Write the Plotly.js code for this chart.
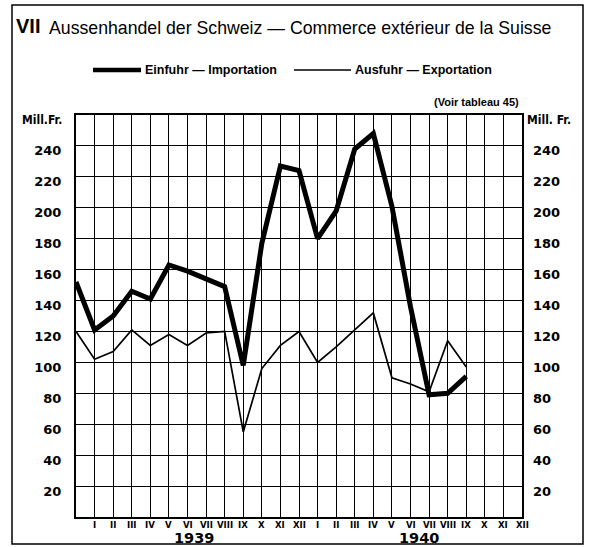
<!DOCTYPE html>
<html>
<head>
<meta charset="utf-8">
<script src="https://cdn.plot.ly/plotly-3.0.1.min.js"></script>
<style>html,body{margin:0;padding:0;background:#fff;}#chart{width:591px;height:547px;}</style>
</head>
<body>
<div id="chart"></div>
<script>
// ---- data (monthly, starting December 1938) ----
const periods = ['XII 1938','I 1939','II 1939','III 1939','IV 1939','V 1939','VI 1939','VII 1939','VIII 1939','IX 1939','X 1939','XI 1939','XII 1939',
                 'I 1940','II 1940','III 1940','IV 1940','V 1940','VI 1940','VII 1940','VIII 1940','IX 1940'];
const importValues = [152,121,130,146,141,163,159,154,149,98,177,227,224,180,198,238,248,201,136,79,80,91];
const exportValues = [120,102,107,121,111,118,111,119,120,55,96,111,120,100,110,121,132,90,86,81,114,97];
const monthTickText = ['I','II','III','IV','V','VI','VII','VIII','IX','X','XI','XII',
                       'I','II','III','IV','V','VI','VII','VIII','IX','X','XI','XII'];
const yearLabels = ['1939','1940'];
const yTickValues = [20,40,60,80,100,120,140,160,180,200,220,240];
const seriesNames = ['Einfuhr — Importation','Ausfuhr — Exportation'];

// ---- geometry helpers ----
const W = 591, H = 547;
const L = 76, R = 522, T = 115, B = 517;
const px = x => (x - L) / (R - L);
const py = y => (B - y) / (B - T);

const xIdx = periods.map((_, i) => i);
const monthTickVals = monthTickText.map((_, i) => i + 1);

const narrow = "'Liberation Sans Narrow','DejaVu Sans Condensed',sans-serif";
const numFont = {family: "'DejaVu Sans',sans-serif", size: 13, color: '#000', weight: 'bold'};

const traces = [
  {x: xIdx, y: importValues, type: 'scatter', mode: 'lines', name: seriesNames[0],
   line: {color: '#000', width: 5, shape: 'linear'}, hoverinfo: 'skip'},
  {x: xIdx, y: exportValues, type: 'scatter', mode: 'lines', name: seriesNames[1],
   line: {color: '#000', width: 1.7}, hoverinfo: 'skip'},
  {x: xIdx, y: exportValues, type: 'scatter', mode: 'lines', yaxis: 'y2', showlegend: false,
   line: {color: 'rgba(0,0,0,0)', width: 0}, hoverinfo: 'skip'}
];

const annotations = [
  {text: 'VII', xref: 'paper', yref: 'paper', x: px(14), y: py(26), xanchor: 'left', yanchor: 'middle',
   showarrow: false, font: {family: "'Liberation Sans',sans-serif", size: 20, weight: 'bold', color: '#000'}},
  {text: 'Aussenhandel der Schweiz — Commerce extérieur de la Suisse', xref: 'paper', yref: 'paper',
   x: px(47), y: py(28), xanchor: 'left', yanchor: 'middle', showarrow: false,
   font: {family: "'Liberation Sans',sans-serif", size: 17.7, color: '#000'}},
  {text: seriesNames[0], xref: 'paper', yref: 'paper', x: px(143), y: py(70), xanchor: 'left', yanchor: 'middle',
   showarrow: false, font: {family: "'Liberation Sans',sans-serif", size: 12.5, weight: 'bold', color: '#000'}},
  {text: seriesNames[1], xref: 'paper', yref: 'paper', x: px(353), y: py(70), xanchor: 'left', yanchor: 'middle',
   showarrow: false, font: {family: "'Liberation Sans',sans-serif", size: 12.5, weight: 'bold', color: '#000'}},
  {text: '(Voir tableau 45)', xref: 'paper', yref: 'paper', x: px(521), y: py(102), xanchor: 'right', yanchor: 'middle',
   showarrow: false, font: {family: "'Liberation Sans',sans-serif", size: 11, weight: 'bold', color: '#000'}},
  {text: 'Mill.Fr.', xref: 'paper', yref: 'paper', x: px(64), y: py(120), xanchor: 'right', yanchor: 'middle',
   showarrow: false, font: {family: narrow, size: 12, weight: 'bold', color: '#000'}},
  {text: 'Mill. Fr.', xref: 'paper', yref: 'paper', x: px(525), y: py(120), xanchor: 'left', yanchor: 'middle',
   showarrow: false, font: {family: narrow, size: 12, weight: 'bold', color: '#000'}},
  {text: yearLabels[0], xref: 'paper', yref: 'paper', x: px(194), y: py(538), xanchor: 'center', yanchor: 'middle',
   showarrow: false, font: {family: "'DejaVu Sans',sans-serif", size: 14.5, weight: 'bold', color: '#000'}},
  {text: yearLabels[1], xref: 'paper', yref: 'paper', x: px(419), y: py(538), xanchor: 'center', yanchor: 'middle',
   showarrow: false, font: {family: "'DejaVu Sans',sans-serif", size: 14.5, weight: 'bold', color: '#000'}}
].concat(monthTickText.map((t, i) => ({
  text: t, xref: 'x', yref: 'paper', x: monthTickVals[i], y: py(524.5), xanchor: 'center', yanchor: 'middle',
  showarrow: false, font: {family: narrow, size: 9.5, weight: 'bold', color: '#000'}
})));

const shapes = [
  // outer frame
  {type: 'rect', xref: 'paper', yref: 'paper', x0: px(12), x1: px(583), y0: py(544), y1: py(5),
   line: {color: '#000', width: 1.5}, layer: 'below'},
  // legend lines
  {type: 'line', xref: 'paper', yref: 'paper', x0: px(93), x1: px(141), y0: py(70), y1: py(70),
   line: {color: '#000', width: 4.5}},
  {type: 'line', xref: 'paper', yref: 'paper', x0: px(294), x1: px(351), y0: py(70), y1: py(70),
   line: {color: '#000', width: 1.5}}
];

const layout = {
  width: W, height: H,
  margin: {l: L, r: W - R, t: T, b: H - B, pad: 0},
  paper_bgcolor: '#fff', plot_bgcolor: '#fff',
  showlegend: false,
  xaxis: {range: [0, 24], tickvals: monthTickVals, ticktext: monthTickText, ticks: '', showticklabels: false,
          showgrid: true, gridcolor: '#000', gridwidth: 1, zeroline: false,
          showline: true, mirror: true, linecolor: '#000', linewidth: 2, fixedrange: true},
  yaxis: {range: [0, 260], tickvals: yTickValues, ticks: '', showgrid: true, gridcolor: '#000', gridwidth: 1,
          zeroline: false, showline: true, mirror: true, linecolor: '#000', linewidth: 2,
          tickfont: numFont, ticklabelshift: 5, ticklabelstandoff: 10, fixedrange: true},
  yaxis2: {range: [0, 260], tickvals: yTickValues, ticks: '', overlaying: 'y', side: 'right',
           showgrid: false, zeroline: false, showline: false,
           tickfont: numFont, ticklabelshift: 5, ticklabelstandoff: 10, fixedrange: true},
  annotations: annotations,
  shapes: shapes
};

Plotly.newPlot('chart', traces, layout, {displayModeBar: false, staticPlot: true});
</script>
</body>
</html>
